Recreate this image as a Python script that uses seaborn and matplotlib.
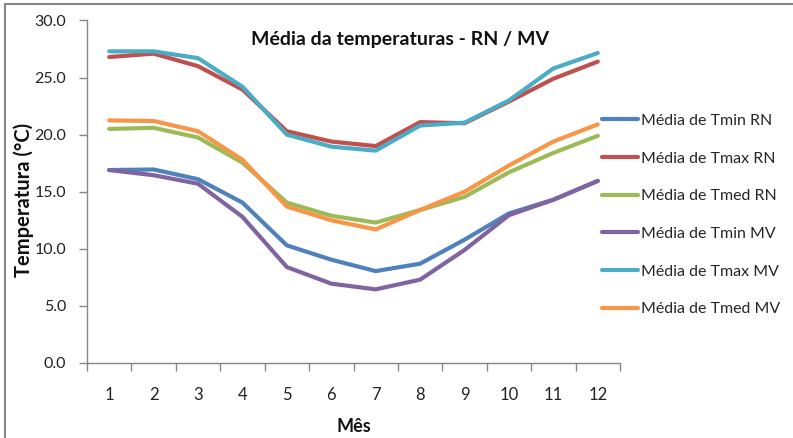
import numpy as np
import pandas as pd
import matplotlib
matplotlib.use("Agg")
import matplotlib.pyplot as plt
from matplotlib.lines import Line2D
import seaborn as sns

months = list(range(1, 13))
tmin_rn = [16.9, 16.95, 16.1, 14.05, 10.3, 9.05, 8.05, 8.7, 10.8, 13.1, 14.3, 15.95]
tmax_rn = [26.8, 27.1, 26.0, 23.95, 20.3, 19.4, 19.0, 21.1, 21.0, 22.9, 24.9, 26.4]
tmed_rn = [20.5, 20.6, 19.75, 17.55, 14.05, 12.9, 12.3, 13.4, 14.55, 16.7, 18.4, 19.9]
tmin_mv = [16.9, 16.45, 15.7, 12.8, 8.4, 6.95, 6.45, 7.3, 9.9, 12.95, 14.3, 15.95]
tmax_mv = [27.3, 27.3, 26.7, 24.2, 20.0, 18.95, 18.6, 20.8, 21.05, 23.0, 25.8, 27.15]
tmed_mv = [21.25, 21.2, 20.3, 17.8, 13.7, 12.5, 11.7, 13.4, 15.0, 17.3, 19.4, 20.9]

series_names = ["Média de Tmin RN", "Média de Tmax RN", "Média de Tmed RN",
                "Média de Tmin MV", "Média de Tmax MV", "Média de Tmed MV"]
series_values = [tmin_rn, tmax_rn, tmed_rn, tmin_mv, tmax_mv, tmed_mv]
colors = ["#4F81BD", "#C0504D", "#9BBB59", "#8064A2", "#4BACC6", "#F79646"]
yticks = [0, 5, 10, 15, 20, 25, 30]

df = pd.DataFrame({
    "Mês": np.tile(months, len(series_names)),
    "Temp": np.concatenate(series_values),
    "Série": np.repeat(series_names, len(months)),
})

sns.set_style("white")
plt.rcParams["font.family"] = ["Lato", "DejaVu Sans"]

W, H = 793, 438
fig = plt.figure(figsize=(W / 100, H / 100), dpi=100)
ax = fig.add_axes([87 / W, 1 - 363 / H, (620 - 87) / W, (363 - 20.5) / H])

sns.lineplot(data=df, x="Mês", y="Temp", hue="Série", hue_order=series_names,
             palette=colors, linewidth=3.0, ax=ax, legend=True)

grey = "#868686"
ax.set_xlim(0.5, 12.5)
ax.set_ylim(0, 30)
ax.set_yticks(yticks)
ax.set_yticklabels([f"{v:.1f}" for v in yticks])
ax.set_xticks(months)
ax.set_xticklabels([str(m) for m in months])
ax.set_xticks(np.arange(0.5, 13, 1), minor=True)
ax.tick_params(axis="x", which="major", length=0, pad=17, labelsize=12, colors="#222222")
ax.tick_params(axis="x", which="minor", length=6, width=1, color=grey, direction="out", bottom=True)
ax.tick_params(axis="y", which="major", length=6, width=1, color=grey, direction="out",
               left=True, pad=9, labelsize=11.5, labelcolor="#222222")
for s in ["top", "right"]:
    ax.spines[s].set_visible(False)
for s in ["left", "bottom"]:
    ax.spines[s].set_color(grey)
    ax.spines[s].set_linewidth(1)

ax.set_ylabel("Temperatura (°C)", fontsize=14.5, fontweight="bold", color="#111111")
ax.yaxis.set_label_coords(-0.099, 0.475)
ax.set_xlabel("Mês", fontsize=13, fontweight="bold", color="#111111")
ax.xaxis.set_label_coords(0.5, -0.16)

handles, labels = ax.get_legend_handles_labels()
ax.legend(handles, labels, loc="center left", bbox_to_anchor=(602 / W, 1 - 215 / H),
          bbox_transform=fig.transFigure, frameon=False, fontsize=11.5,
          handlelength=2.25, handletextpad=0.2, labelspacing=1.47,
          borderpad=0, borderaxespad=0)

fig.text(400 / W, 1 - 40 / H, "Média da temperaturas - RN / MV", ha="center", va="center",
         fontsize=14, fontweight="bold", color="#111111")

fig.add_artist(Line2D([5 / W, 1], [1 - 4 / H, 1 - 4 / H], transform=fig.transFigure, color=grey, lw=1.5))
fig.add_artist(Line2D([5 / W, 5 / W], [0, 1 - 4 / H], transform=fig.transFigure, color=grey, lw=1.5))

fig.savefig("out.png", dpi=100)
